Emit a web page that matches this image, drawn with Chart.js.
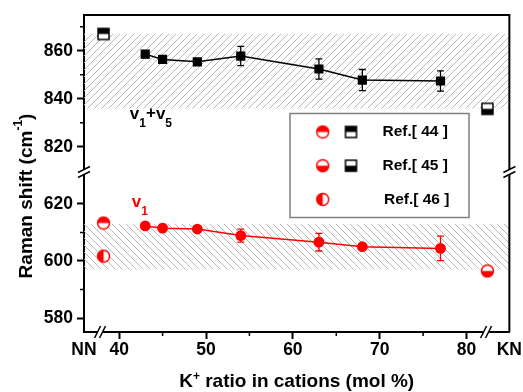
<!DOCTYPE html>
<html>
<head>
<meta charset="utf-8">
<script src="https://cdn.jsdelivr.net/npm/chart.js@4.4.1/dist/chart.umd.min.js"></script>
<style>
  html, body { margin: 0; padding: 0; background: #fff; }
  #wrap { width: 523px; height: 392px; }
</style>
</head>
<body>
<div id="wrap"><canvas id="c"></canvas></div>
<script>
// K+ ratio in cations (mol %) of the measured glasses
const kRatio = [43, 45, 49, 54, 63, 68, 77];
// v1+v5 band, upper panel
const v15Shift = [858.6, 856.4, 855.4, 857.8, 852.4, 847.8, 847.4];
const v15Err   = [1.5, 1.0, 1.0, 4.0, 4.2, 4.4, 4.2];
// v1 band, lower panel
const v1Shift = [612.3, 611.5, 611.2, 608.9, 606.6, 605.0, 604.4];
const v1Err   = [0.8, 1.3, 0.6, 2.3, 3.1, 0.8, 4.3];

// literature values at the NN end and the KN end
const refNNx = 38.2, refKNx = 82.4;
const ref44 = { top: 867.0, bot: 613.3 };   // NN
const ref45 = { top: 835.8, bot: 596.5 };   // KN
const ref46 = { bot: 601.7 };               // NN

// hatched ranges
const bandTop = [836, 867];
const bandBot = [597, 613];

// axes
const xRange = [35.95, 84.93];
const xTicks = [35.95, 40, 50, 60, 70, 80, 84.93];
const xTickLabels = ['NN', '40', '50', '60', '70', '80', 'KN'];
const xMinor = [45, 55, 65, 75];
const xBreaks = [37.8, 82.25];
const yTopRange = [809.5, 874.9];
const yTopTicks = [820, 840, 860];
const yTopMinor = [830, 850, 870];
const yBotRange = [575.1, 631.2];
const yBotTicks = [580, 600, 620];
const yBotMinor = [590, 610];

const RED = '#ff0000';
const FONT = '"Liberation Sans", Arial, sans-serif';
Chart.defaults.font.family = FONT;
Chart.defaults.font.weight = 'bold';
Chart.defaults.color = '#000';

const canvas = document.getElementById('c');
const ctx0 = canvas.getContext('2d');

function hatch(dir) {
  const n = 7, c = document.createElement('canvas');
  c.width = c.height = n;
  const g = c.getContext('2d');
  g.strokeStyle = '#b0b0b0';
  g.lineWidth = 0.9;
  g.beginPath();
  if (dir > 0) {
    g.moveTo(0, n); g.lineTo(n, 0);
    g.moveTo(-1, 1); g.lineTo(1, -1);
    g.moveTo(n - 1, n + 1); g.lineTo(n + 1, n - 1);
  } else {
    g.moveTo(0, 0); g.lineTo(n, n);
    g.moveTo(n - 1, -1); g.lineTo(n + 1, 1);
    g.moveTo(-1, n - 1); g.lineTo(1, n + 1);
  }
  g.stroke();
  return ctx0.createPattern(c, 'repeat');
}

// half-filled markers used for literature points
function halfMark(shape, half, col) {
  const s = 15, m = s / 2, c = document.createElement('canvas');
  c.width = c.height = s;
  const g = c.getContext('2d');
  const path = () => {
    g.beginPath();
    if (shape === 'square') g.rect(m - 5.5, m - 5.5, 11, 11);
    else g.arc(m, m, 6, 0, Math.PI * 2);
  };
  path(); g.fillStyle = '#fff'; g.fill();
  g.save(); path(); g.clip();
  g.fillStyle = col;
  if (half === 'top') g.fillRect(0, 0, s, m);
  else if (half === 'bottom') g.fillRect(0, m, s, m);
  else g.fillRect(0, 0, m, s);
  g.restore();
  path(); g.lineWidth = 1.5; g.strokeStyle = col; g.stroke();
  return c;
}

const sq44 = halfMark('square', 'top', '#000');
const sq45 = halfMark('square', 'bottom', '#000');
const ci44 = halfMark('circle', 'top', RED);
const ci45 = halfMark('circle', 'bottom', RED);
const ci46 = halfMark('circle', 'left', RED);

const band = (range, axis, pat) => ({
  type: 'line', yAxisID: axis, order: 10,
  data: [{ x: xRange[0], y: range[1] }, { x: xRange[1], y: range[1] }],
  fill: { value: range[0] }, backgroundColor: pat,
  borderColor: 'rgba(0,0,0,0)', pointRadius: 0,
});

const refPt = (x, y, axis, img) => ({
  type: 'line', yAxisID: axis, showLine: false,
  data: [{ x, y }], pointStyle: img, pointRadius: 6,
});

const datasets = [
  band(bandTop, 'yTop', hatch(1)),
  band(bandBot, 'yBot', hatch(-1)),
  {
    type: 'line', yAxisID: 'yTop',
    data: kRatio.map((x, i) => ({ x, y: v15Shift[i] })),
    errs: v15Err,
    borderColor: '#000', borderWidth: 1.5,
    pointStyle: 'rect', pointRadius: 6.5, pointBorderWidth: 0,
    pointBackgroundColor: '#000',
  },
  {
    type: 'line', yAxisID: 'yBot',
    data: kRatio.map((x, i) => ({ x, y: v1Shift[i] })),
    errs: v1Err,
    borderColor: RED, borderWidth: 1.5,
    pointStyle: 'circle', pointRadius: 5.4, pointBorderWidth: 0,
    pointBackgroundColor: RED,
  },
  refPt(refNNx, ref44.top, 'yTop', sq44),
  refPt(refKNx, ref45.top, 'yTop', sq45),
  refPt(refNNx, ref44.bot, 'yBot', ci44),
  refPt(refNNx, ref46.bot, 'yBot', ci46),
  refPt(refKNx, ref45.bot, 'yBot', ci45),
];

// draws text pieces [text, size, dy] one after another along the baseline
function runText(g, parts, x, y) {
  let cx = x;
  for (const [t, size, dy] of parts) {
    g.font = `bold ${size}px ${FONT}`;
    g.fillText(t, cx, y + dy);
    cx += g.measureText(t).width;
  }
  return cx - x;
}
function runWidth(g, parts) {
  let w = 0;
  for (const [t, size] of parts) {
    g.font = `bold ${size}px ${FONT}`;
    w += g.measureText(t).width;
  }
  return w;
}

const decor = {
  id: 'decor',
  afterDatasetsDraw(chart) {
    const g = chart.ctx;
    chart.data.datasets.forEach((ds, i) => {
      if (!ds.errs) return;
      const ys = chart.scales[ds.yAxisID];
      const meta = chart.getDatasetMeta(i);
      g.save();
      g.strokeStyle = ds.borderColor;
      g.lineWidth = 1.3;
      meta.data.forEach((pt, j) => {
        const v = ds.data[j].y, e = ds.errs[j];
        const y1 = ys.getPixelForValue(v + e), y2 = ys.getPixelForValue(v - e);
        g.beginPath();
        g.moveTo(pt.x, y1); g.lineTo(pt.x, y2);
        g.moveTo(pt.x - 3.5, y1); g.lineTo(pt.x + 3.5, y1);
        g.moveTo(pt.x - 3.5, y2); g.lineTo(pt.x + 3.5, y2);
        g.stroke();
      });
      g.restore();
    });
  },
  afterDraw(chart) {
    const g = chart.ctx;
    const { left, right, top, bottom } = chart.chartArea;
    const x = chart.scales.x, yT = chart.scales.yTop, yB = chart.scales.yBot;
    g.save();
    g.strokeStyle = '#000';
    g.fillStyle = '#000';

    // frame top and right
    g.lineWidth = 2;
    g.beginPath();
    g.moveTo(left - 1, top); g.lineTo(right, top); g.lineTo(right, bottom);
    g.stroke();

    // minor ticks
    g.lineWidth = 1.5;
    g.beginPath();
    for (const v of xMinor) {
      const px = x.getPixelForValue(v);
      g.moveTo(px, bottom); g.lineTo(px, bottom + 4);
    }
    for (const v of yTopMinor) {
      const py = yT.getPixelForValue(v);
      g.moveTo(left - 4, py); g.lineTo(left, py);
    }
    for (const v of yBotMinor) {
      const py = yB.getPixelForValue(v);
      g.moveTo(left - 4, py); g.lineTo(left, py);
    }
    g.stroke();

    // axis breaks
    g.lineWidth = 1.5;
    for (const v of xBreaks) {
      const px = x.getPixelForValue(v);
      g.fillStyle = '#fff';
      g.fillRect(px - 3, bottom - 2, 6, 4);
      g.beginPath();
      for (const d of [-2.5, 2.5]) {
        g.moveTo(px + d - 3, bottom + 6); g.lineTo(px + d + 3, bottom - 6);
      }
      g.stroke();
    }
    const yBrk = yT.bottom;
    for (const px of [left, right]) {
      g.fillStyle = '#fff';
      g.fillRect(px - 2, yBrk - 3, 4, 6);
      g.beginPath();
      for (const d of [-2.5, 2.5]) {
        g.moveTo(px - 6, yBrk + d + 3); g.lineTo(px + 6, yBrk + d - 3);
      }
      g.stroke();
    }

    // legend
    const lx = 290, ly = 113.5, lw = 179, lh = 104;
    g.fillStyle = '#fff';
    g.fillRect(lx, ly, lw, lh);
    g.strokeStyle = '#808080';
    g.lineWidth = 1.5;
    g.strokeRect(lx, ly, lw, lh);
    const rows = [
      [ci44, sq44, 'Ref.[ 44 ]'],
      [ci45, sq45, 'Ref.[ 45 ]'],
      [ci46, null, 'Ref.[ 46 ]'],
    ];
    g.fillStyle = '#000';
    g.textBaseline = 'middle';
    g.font = `bold 15.5px ${FONT}`;
    rows.forEach(([c, s, t], i) => {
      const ry = 132 + i * 33.7;
      g.drawImage(c, 322.7 - c.width / 2, ry - c.height / 2);
      if (s) g.drawImage(s, 351 - s.width / 2, ry - s.height / 2);
      g.fillText(t, i === 2 ? 384 : 382.5, ry);
    });

    // band labels
    g.textBaseline = 'alphabetic';
    g.fillStyle = '#000';
    runText(g, [['v', 17, 0], ['1', 12, 8], ['+', 17, -1], ['v', 17, 0], ['5', 12, 8]],
      x.getPixelForValue(41.23), yT.getPixelForValue(831.5));
    g.fillStyle = RED;
    runText(g, [['v', 17, 0], ['1', 12, 8.3]],
      x.getPixelForValue(41.46), yB.getPixelForValue(619.05));

    // axis titles
    g.fillStyle = '#000';
    const xt = [['K', 19, 0], ['+', 12, -7.5], [' ratio in cations (mol %)', 19, 0]];
    const xw = runWidth(g, xt);
    runText(g, xt, (left + right) / 2 - xw / 2, 387);

    const yt = [['Raman shift (cm', 19, 0], ['-1', 12, -10], [')', 19, 0]];
    const yw = runWidth(g, yt);
    g.translate(31.7, 196);
    g.rotate(-Math.PI / 2);
    runText(g, yt, -yw / 2, 0);
    g.restore();
  },
};

const tickFont = { size: 17.5, weight: 'bold', family: FONT };

new Chart(canvas, {
  data: { datasets },
  plugins: [decor],
  options: {
    responsive: true,
    maintainAspectRatio: false,
    devicePixelRatio: 1,
    animation: false,
    layout: { padding: { top: 15, left: 0, right: 0, bottom: 0 } },
    plugins: { legend: { display: false }, tooltip: { enabled: false } },
    scales: {
      x: {
        type: 'linear', min: xRange[0], max: xRange[1],
        afterBuildTicks: (s) => { s.ticks = xTicks.map(v => ({ value: v })); },
        afterFit: (s) => { s.height = 60; },
        ticks: {
          callback: (v, i) => xTickLabels[i],
          font: tickFont, color: '#000', padding: 1,
          maxRotation: 0, autoSkip: false,
        },
        grid: {
          drawOnChartArea: false, tickLength: 7, tickWidth: 2,
          tickColor: (c) => (c.index === 0 || c.index === xTicks.length - 1) ? 'rgba(0,0,0,0)' : '#000',
        },
        border: { color: '#000', width: 2 },
      },
      // lower panel listed first so the stack puts it at the bottom
      yBot: {
        type: 'linear', position: 'left', stack: 'y', stackWeight: 160,
        min: yBotRange[0], max: yBotRange[1],
        afterBuildTicks: (s) => { s.ticks = yBotTicks.map(v => ({ value: v })); },
        afterFit: (s) => { s.width = 84; },
        ticks: { font: tickFont, color: '#000', padding: 4 },
        grid: { drawOnChartArea: false, tickLength: 7, tickWidth: 2, tickColor: '#000' },
        border: { color: '#000', width: 2 },
      },
      yTop: {
        type: 'linear', position: 'left', stack: 'y', stackWeight: 157,
        min: yTopRange[0], max: yTopRange[1],
        afterBuildTicks: (s) => { s.ticks = yTopTicks.map(v => ({ value: v })); },
        afterFit: (s) => { s.width = 84; },
        ticks: { font: tickFont, color: '#000', padding: 4 },
        grid: { drawOnChartArea: false, tickLength: 7, tickWidth: 2, tickColor: '#000' },
        border: { color: '#000', width: 2 },
      },
    },
  },
});
</script>
</body>
</html>
